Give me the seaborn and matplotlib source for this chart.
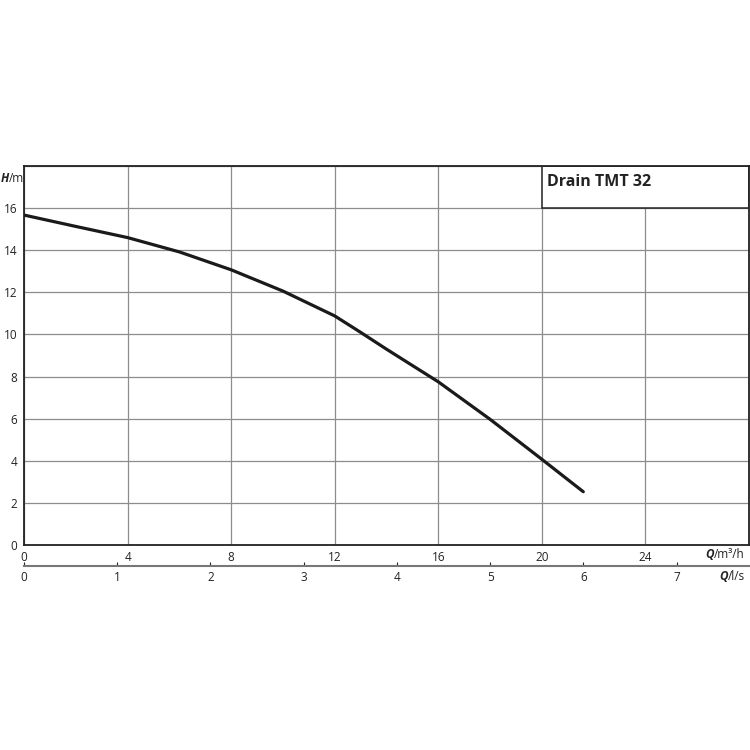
import matplotlib.pyplot as plt
import matplotlib.patches as patches
import pandas as pd
import seaborn as sns

# pump curve
flow_m3h = [0, 2, 4, 6, 8, 10, 12, 13, 14, 16, 18, 20, 21.6]
head_m = [15.67, 15.13, 14.6, 13.92, 13.07, 12.06, 10.88, 10.1, 9.3, 7.75, 5.97, 4.07, 2.53]

x_ticks = [0, 4, 8, 12, 16, 20, 24]
y_ticks = [0, 2, 4, 6, 8, 10, 12, 14, 16]
ls_ticks = [0, 1, 2, 3, 4, 5, 6, 7]
title = "Drain TMT 32"

sns.set_style("white")
plt.rcParams['font.family'] = ['Open Sans', 'DejaVu Sans']

W = 750
fig = plt.figure(figsize=(7.5, 7.5), dpi=100)
ax = fig.add_axes([24 / W, 1 - 545 / W, 725 / W, 379 / W])

df = pd.DataFrame({"Q": flow_m3h, "H": head_m})
sns.lineplot(data=df, x="Q", y="H", ax=ax, color="#1a1a1a", linewidth=2.3,
             zorder=3, solid_capstyle="round", solid_joinstyle="round")

ax.set_xlim(0, 28)
ax.set_ylim(0, 18)
ax.set_xticks([0, 4, 8, 12, 16, 20, 24, 28])
ax.set_xticklabels([str(v) for v in x_ticks] + [""])
ax.set_yticks(y_ticks + [18])
ax.set_yticklabels([str(v) for v in y_ticks] + [""])
ax.set_xlabel("")
ax.set_ylabel("")
ax.tick_params(axis="both", length=0, labelsize=8.5, colors="#222222")
ax.tick_params(axis="x", pad=4)
ax.tick_params(axis="y", pad=5)
ax.grid(True, color="#8c8c8c", linewidth=0.9)
ax.set_axisbelow(True)
for s in ax.spines.values():
    s.set_color("#222222")
    s.set_linewidth(1.3)

# title box in the top right corner
box = patches.Rectangle((20, 16), 8, 2, facecolor="white", edgecolor="#222222",
                        linewidth=1.1, zorder=1)
ax.add_patch(box)
ax.text(20.2, 17.24, title, fontsize=11.5, fontweight="bold", color="#222222",
        va="center", ha="left", zorder=4)

# second flow axis in l/s
sec = ax.secondary_xaxis(-0.055, functions=(lambda q: q / 3.6, lambda l: l * 3.6))
sec.set_xticks(ls_ticks)
sec.set_xticklabels([str(v) for v in ls_ticks])
sec.tick_params(axis="x", direction="in", length=3, width=0.8, colors="#222222",
                labelsize=8.5, pad=4)
sec.spines["bottom"].set_color("#777777")
sec.spines["bottom"].set_linewidth(1.5)

# axis unit labels
fs = 8.5
fig.canvas.draw()
r = fig.canvas.get_renderer()

t1 = fig.text(745 / W, 1 - 554 / W, "/m³/h", ha="right", va="center", fontsize=fs, color="#222222")
b1 = t1.get_window_extent(r)
fig.text(b1.x0 / W, 1 - 554 / W, "Q", ha="right", va="center", fontsize=fs,
         fontweight="bold", style="italic", color="#222222")

t2 = fig.text(745 / W, 1 - 576 / W, "/l/s", ha="right", va="center", fontsize=fs, color="#222222")
b2 = t2.get_window_extent(r)
fig.text(b2.x0 / W, 1 - 576 / W, "Q", ha="right", va="center", fontsize=fs,
         fontweight="bold", style="italic", color="#222222")

t3 = fig.text(1 / W, 1 - 178 / W, "H", ha="left", va="center", fontsize=fs,
              fontweight="bold", style="italic", color="#222222")
b3 = t3.get_window_extent(r)
fig.text(b3.x1 / W, 1 - 178 / W, "/m", ha="left", va="center", fontsize=fs, color="#222222")

fig.savefig("out.png", dpi=100, facecolor="white")
